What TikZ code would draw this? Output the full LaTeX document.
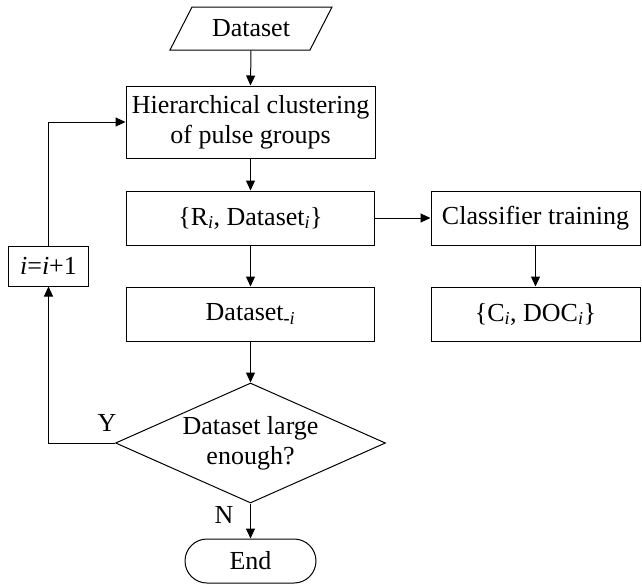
\documentclass[tikz,border=0pt]{standalone}
\usepackage{fontspec}
\setmainfont{Liberation Serif}
\usetikzlibrary{arrows.meta,shapes.geometric,shapes.misc}
\begin{document}
\begin{tikzpicture}[x=1pt,y=-1pt,
  line width=1pt,
  every node/.style={font=\fontsize{26}{32}\selectfont},
  box/.style={draw, rectangle, inner sep=0pt, align=center},
  arr/.style={-{Triangle[length=10pt,width=9pt]}},
  lbl/.style={inner sep=0pt}]
\useasboundingbox (0,0) rectangle (642,584);
% input parallelogram
\draw (170,50) -- (192,7) -- (332,7) -- (310,50) -- cycle;
\node[inner sep=0pt, minimum width=140pt, minimum height=43pt] (data) at (251,28.5) {Dataset};
\node[box, minimum width=249pt, minimum height=72pt] (hier) at (250.5,122) {Hierarchical clustering\\[-2pt]of pulse groups};
\node[box, minimum width=248pt, minimum height=54pt] (res) at (250.5,218) {\{R\textsubscript{\textit{i}}, Dataset\textsubscript{\textit{i}}\}};
\node[box, minimum width=209pt, minimum height=54pt] (cls) at (535.5,218) {Classifier training};
\node[box, minimum width=248pt, minimum height=54pt] (dsi) at (250.5,314) {Dataset\textsubscript{\textbf{-}\textit{i}}};
\node[box, minimum width=209pt, minimum height=54pt] (cdoc) at (535.5,314) {\{C\textsubscript{\textit{i}}, DOC\textsubscript{\textit{i}}\}};
\node[draw, diamond, inner sep=0pt, shape aspect=2.25, minimum width=270pt, minimum height=120pt, align=center] (dec) at (250.5,443) {Dataset large\\[-2pt]enough?};
\node[draw, rounded rectangle, inner sep=0pt, minimum width=131pt, minimum height=44pt] (end) at (250.5,561) {End};
\node[box, minimum width=80pt, minimum height=40pt] (inc) at (48.5,266) {\textit{i}=\textit{i}+1};
\node[lbl] (ylab) at (107,423) {Y};
\node[lbl] (nlab) at (224,515) {N};
% connectors
\draw[arr] (data.south) -- (hier.north);
\draw[arr] (hier.south) -- (res.north);
\draw[arr] (res.east) -- (cls.west);
\draw[arr] (res.south) -- (dsi.north);
\draw[arr] (cls.south) -- (cdoc.north);
\draw[arr] (dsi.south) -- (dec.north);
\draw[arr] (dec.south) -- (end.north);
\draw[arr] (dec.west) -- (inc.south |- dec.west) -- (inc.south);
\draw[arr] (inc.north) |- (hier.west);
\end{tikzpicture}
\end{document}
